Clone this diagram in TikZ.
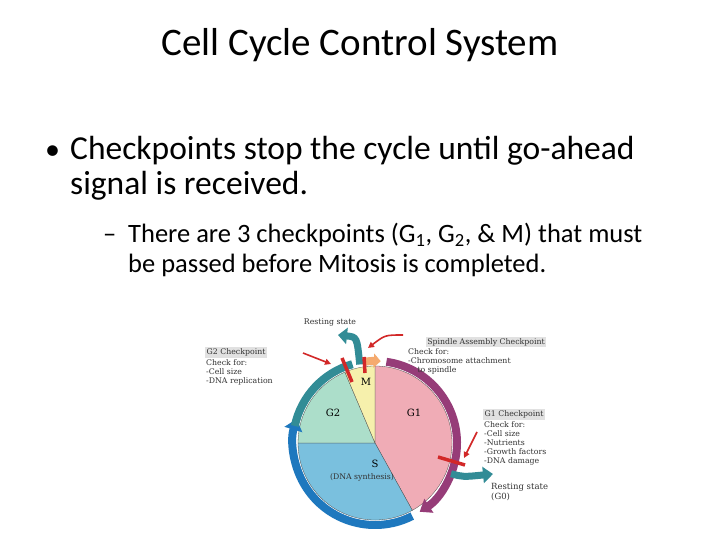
\documentclass[tikz,border=0pt]{standalone}
\usepackage{fontspec}
\setmainfont{Carlito}
\newfontfamily\lbl{DejaVu Serif}
\usetikzlibrary{arrows.meta}
\definecolor{cgone}{RGB}{240,172,182}
\definecolor{cmph}{RGB}{246,240,172}
\definecolor{cgtwo}{RGB}{172,222,202}
\definecolor{cs}{RGB}{122,192,222}
\definecolor{rpur}{RGB}{150,60,120}
\definecolor{rblue}{RGB}{30,120,190}
\definecolor{rteal}{RGB}{50,140,150}
\definecolor{rorange}{RGB}{245,170,110}
\definecolor{rred}{RGB}{210,40,40}
\definecolor{boxg}{RGB}{225,225,225}
\tikzset{ring/.style={line width=8pt},
 sm/.style={font=\lbl\fontsize{7.8}{9.2}\selectfont,align=left,inner sep=1pt,text=black!80},
 hdr/.style={sm,fill=boxg,inner sep=1.5pt},
 bar/.style={rred,line width=3.5pt},
 rarr/.style={rred,line width=1.6pt,-{Triangle[length=6pt,width=6pt]}},
 big/.style={anchor=base west,inner sep=0},
 sect/.style={draw=gray!60!black,line width=0.3pt}}
\begin{document}
\begin{tikzpicture}[x=1pt,y=1pt]
\useasboundingbox (0,0) rectangle (720,540);
\fill[white] (0,0) rectangle (720,540);
\node (title) at (360,495) {\fontsize{39}{44}\selectfont Cell Cycle Control System};
\node[big] (b1) at (45,380) {\fontsize{30}{32}\selectfont •};
\node[big] (t1) at (70,380) {\fontsize{33.5}{38}\selectfont Checkpoints stop the cycle until go-ahead};
\node[big] (t1b) at (70,345) {\fontsize{33.5}{38}\selectfont signal is received.};
\node[big] (d1) at (103,297) {\fontsize{26.5}{28}\selectfont –};
\node[big] (t2) at (128,297) {\fontsize{26.5}{30}\selectfont There are 3 checkpoints (G\textsubscript{1}, G\textsubscript{2}, \& M) that must};
\node[big] (t2b) at (128,267) {\fontsize{26.5}{30}\selectfont be passed before Mitosis is completed.};
% pie
\coordinate (c) at (375,97);
\fill[cgone,sect] (c) -- ++(90:77) arc (90:-61:77) -- cycle;
\fill[cs,sect] (c) -- ++(-61:77) arc (-61:-180:77) -- cycle;
\fill[cgtwo,sect] (c) -- ++(180:77) arc (180:113:77) -- cycle;
\fill[cmph,sect] (c) -- ++(113:77) arc (113:90:77) -- cycle;
\node[font=\lbl\fontsize{10}{10}\selectfont] (m) at (366,158) {M};
\node[font=\lbl\fontsize{10}{10}\selectfont] (g2) at (333,127) {G2};
\node[font=\lbl\fontsize{10}{10}\selectfont] (g1) at (414,127) {G1};
\node[font=\lbl\fontsize{10}{10}\selectfont] (s) at (375,76) {S};
\node[sm] (dna) at (362,63) {(DNA synthesis)};
% ring
\draw[ring,rpur,-{Triangle[length=11pt,width=16pt]}] (c) ++(82:82) arc (82:-57:82);
\draw[ring,rblue,-{Triangle[length=11pt,width=18pt]}] (c) ++(-63:82) arc (-63:-197:82);
\draw[ring,rteal] (c) ++(168:82) arc (168:106:82);
\draw[ring,rorange,-{Triangle[length=7pt,width=14pt]}] (c) ++(97:82) arc (97:86:82);
\draw[ring,rteal,line width=7pt,-{Triangle[length=9pt,width=16pt]}] (c) ++(101:80) .. controls (357,203) .. (338,205);
\draw[ring,rteal,line width=7pt,-{Triangle[length=10pt,width=16pt]}] (c) ++(-22:82) .. controls (463,63) .. (493,66);
% bars
\draw[bar] (342,182) -- (352,158);
\draw[bar] (364,183) -- (365,167);
\draw[bar] (438,83) -- (465,75);
\draw[rarr] (303,187) -- (331,176);
\draw[rarr] (403,205) .. controls (385,205) .. (368,192);
\draw[rarr] (477,108) -- (464,82);
% labels
\node[sm] (rs) at (330,217) {Resting state};
\node[hdr] (sac) at (486,198) {Spindle Assembly Checkpoint};
\node[sm,anchor=north west] (sact) at (407,193) {Check for:\\-Chromosome attachment\\\hspace{1.2em}to spindle};
\node[hdr,anchor=north west] (g2c) at (205,193) {G2 Checkpoint};
\node[sm,anchor=north west] (g2t) at (205,182) {Check for:\\-Cell size\\-DNA replication};
\node[hdr,anchor=north west] (g1c) at (483,131) {G1 Checkpoint};
\node[sm,anchor=north west] (g1t) at (483,120) {Check for:\\-Cell size\\-Nutrients\\-Growth factors\\-DNA damage};
\node[sm,anchor=north west,font=\lbl\fontsize{8.5}{10}\selectfont] (g0) at (490,58) {Resting state\\(G0)};
\end{tikzpicture}
\end{document}
